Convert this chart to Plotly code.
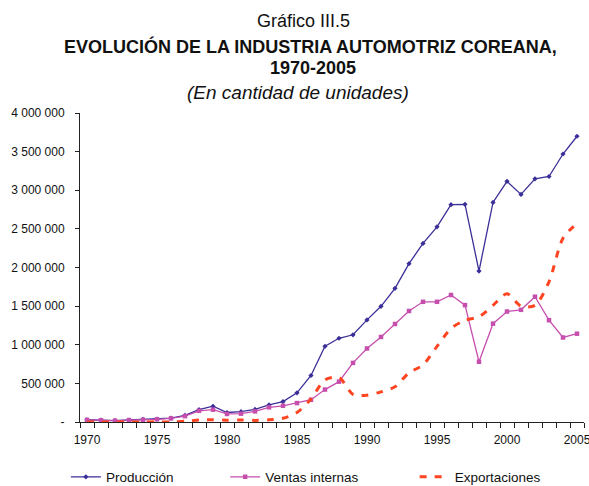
import plotly.graph_objects as go

# Korean automotive industry, units per year
years = list(range(1970, 2006))

produccion = [
    29000, 23000, 19000, 26000, 33000, 37000, 49000, 86000, 159000, 204000,
    123000, 134000, 163000, 221000, 265000, 378000, 602000, 980000, 1084000, 1129000,
    1322000, 1498000, 1730000, 2050000, 2312000, 2526000, 2813000, 2818000, 1954000, 2843000,
    3115000, 2946000, 3148000, 3178000, 3469000, 3699000,
]

ventas_internas = [
    28000, 22000, 17000, 25000, 29000, 35000, 47000, 76000, 145000, 160000,
    104000, 108000, 138000, 190000, 210000, 245000, 288000, 420000, 522000, 765000,
    952000, 1101000, 1269000, 1437000, 1556000, 1556000, 1644000, 1513000, 780000, 1273000,
    1430000, 1452000, 1622000, 1318000, 1094000, 1143000,
]

exportaciones = [
    0, 0, 0, 0, 1000, 2000, 1000, 9000, 26000, 30000,
    24000, 26000, 21000, 28000, 48000, 123000, 299000, 546000, 576000, 357000,
    347000, 390000, 456000, 638000, 738000, 979000, 1210000, 1317000, 1362000, 1510000,
    1660000, 1501000, 1510000, 1815000, 2379000, 2570000,
]

x_labels = [1970, 1975, 1980, 1985, 1990, 1995, 2000, 2005]
y_vals = [0, 500000, 1000000, 1500000, 2000000, 2500000, 3000000, 3500000, 4000000]
y_text = ["-", "500 000", "1 000 000", "1 500 000", "2 000 000",
          "2 500 000", "3 000 000", "3 500 000", "4 000 000"]

FONT = "Liberation Sans, Arial, sans-serif"
BLUE = "#3a2f98"
PINK = "#c64fae"
RED = "#ff4422"

fig = go.Figure()
fig.add_trace(go.Scatter(
    x=years, y=produccion, name="Producción", mode="lines+markers",
    line=dict(color=BLUE, width=1.3),
    marker=dict(symbol="diamond", size=4, color=BLUE),
    legend="legend",
))
fig.add_trace(go.Scatter(
    x=years, y=ventas_internas, name="Ventas internas", mode="lines+markers",
    line=dict(color=PINK, width=1.3),
    marker=dict(symbol="square", size=4.5, color=PINK),
    legend="legend2",
))
fig.add_trace(go.Scatter(
    x=years, y=exportaciones, name="Exportaciones", mode="lines",
    line=dict(color=RED, width=3, dash="7px,8px", shape="spline", smoothing=0.8),
    legend="legend3",
))

leg_common = dict(orientation="h", yanchor="top", y=-0.128, xanchor="left",
                  font=dict(family=FONT, size=13.5, color="#111111"),
                  bgcolor="rgba(0,0,0,0)", borderwidth=0)

fig.update_layout(
    width=589, height=486,
    margin=dict(l=80, r=5, t=113, b=64, autoexpand=False),
    paper_bgcolor="white", plot_bgcolor="white",
    font=dict(family=FONT, size=12, color="#111111"),
    showlegend=True,
    legend=dict(x=-0.028, **leg_common),
    legend2=dict(x=0.288, **leg_common),
    legend3=dict(x=0.664, **leg_common),
    xaxis=dict(
        range=[1969.5, 2005.5], tickvals=x_labels, ticktext=[str(v) for v in x_labels],
        ticks="", showgrid=False, zeroline=False,
        showline=True, linecolor="#222222", linewidth=1,
        tickfont=dict(family=FONT, size=12, color="#111111"),
        ticklabelstandoff=7, ticklabeloverflow="allow",
        minor=dict(ticks="outside", tick0=1969.5, dtick=1, ticklen=5,
                   tickcolor="#222222", tickwidth=1, showgrid=False),
    ),
    yaxis=dict(
        range=[0, 4000000], tickvals=y_vals, ticktext=y_text,
        ticks="outside", ticklen=4, tickcolor="#222222", tickwidth=1,
        showgrid=False, zeroline=False,
        showline=True, linecolor="#222222", linewidth=1,
        tickfont=dict(family=FONT, size=12, color="#111111"),
        ticklabelstandoff=8,
    ),
)

# Title block: caption, bold heading in two lines, italic unit note
titles = [
    ("Gráfico III.5", 303, 21, 18),
    ("<b>EVOLUCIÓN DE LA INDUSTRIA AUTOMOTRIZ COREANA,</b>", 310, 46, 18),
    ("<b>1970-2005</b>", 313, 68, 18),
    ("<i>(En cantidad de unidades)</i>", 298, 92, 19),
]
for text, cx, cy, size in titles:
    fig.add_annotation(
        text=text, xref="paper", yref="paper",
        x=(cx - 80) / 504, y=1 + (113 - cy) / 309,
        xanchor="center", yanchor="middle", showarrow=False,
        font=dict(family=FONT, color="#111111", size=size),
    )

fig.write_html("out.html")
